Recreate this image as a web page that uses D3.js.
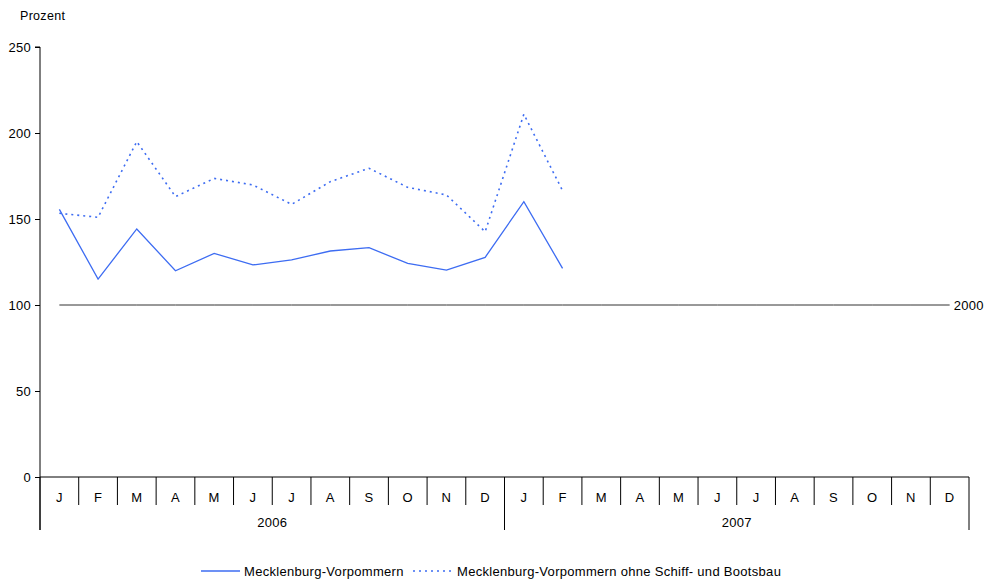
<!DOCTYPE html>
<html><head><meta charset="utf-8">
<script src="https://cdn.jsdelivr.net/npm/d3@7"></script>
<style>body{margin:0;background:#fff;} svg{display:block;font-family:"Liberation Sans",Arial,sans-serif;} text{letter-spacing:0.3px;}</style>
</head><body>
<script>
const months = ["J","F","M","A","M","J","J","A","S","O","N","D"];
const years = ["2006","2007"];
const seriesMV = [155.6,115.1,144.2,119.9,130.0,123.3,126.2,131.4,133.3,124.2,120.3,127.7,160.1,121.3];
const seriesOhne = [153.3,151.0,195.0,163.0,173.6,169.8,158.5,171.7,179.5,168.4,164.0,142.6,210.9,166.5];
const baseValue = 100;
const yTicks = [0,50,100,150,200,250];
const legendLabels = ["Mecklenburg-Vorpommern","Mecklenburg-Vorpommern ohne Schiff- und Bootsbau"];

const W=986,H=582;
const svg=d3.select("body").append("svg").attr("width",W).attr("height",H);
const nM = months.length*years.length;
const x0=40,x1=969;
const xb=d3.scaleBand().domain(d3.range(nM)).range([x0,x1]).padding(0);
const xc=i=>xb(i)+xb.bandwidth()/2;
const y=d3.scaleLinear().domain([0,250]).range([477,47]);
const blue="#3d6cf2";
const FS=13;

// y axis
const ya=svg.append("g").attr("transform",`translate(${x0},0)`).call(d3.axisLeft(y).tickValues(yTicks).tickSize(5).tickPadding(4));
ya.select(".domain").attr("d",`M-5,${y(250)}H0V${y(0)+53}`).attr("stroke","#000");
ya.selectAll("text").attr("font-size",FS).attr("fill","#000").attr("dy","0.36em").style("font-family","Liberation Sans, Arial, sans-serif");
ya.selectAll(".tick line").attr("stroke","#000");

svg.append("text").attr("x",20).attr("y",20).attr("font-size",12.5).text("Prozent");

// x axis line
svg.append("line").attr("x1",x0).attr("x2",x1).attr("y1",y(0)).attr("y2",y(0)).attr("stroke","#000");
// month boundaries
const bounds=d3.range(nM+1);
svg.selectAll(".mb").data(bounds).join("line")
  .attr("x1",i=>i===nM?x1:xb(i)).attr("x2",i=>i===nM?x1:xb(i))
  .attr("y1",y(0)).attr("y2",i=>i%12===0?y(0)+53:y(0)+28).attr("stroke","#000");
svg.selectAll(".ml").data(d3.range(nM)).join("text")
  .attr("x",i=>xc(i)).attr("y",y(0)+24.5).attr("text-anchor","middle").attr("font-size",FS)
  .text(i=>months[i%12]);
svg.selectAll(".yl").data(years).join("text")
  .attr("x",(d,i)=>(xb(i*12)+ (i*12+12===nM?x1:xb(i*12+12)))/2).attr("y",y(0)+50)
  .attr("text-anchor","middle").attr("font-size",FS).text(d=>d);

// base line
const line=d3.line().x((d,i)=>xc(i)).y(d=>y(d));
const baseData=d3.range(nM).map(()=>baseValue);
svg.append("path").attr("d",line(baseData)).attr("fill","none").attr("stroke","#333").attr("stroke-width",1);
svg.append("text").attr("x",xc(nM-1)+4).attr("y",y(baseValue)+4.5).attr("font-size",FS).text("2000");

svg.append("path").attr("d",line(seriesOhne)).attr("fill","none").attr("stroke",blue).attr("stroke-width",1.6).attr("stroke-dasharray","2,4");
svg.append("path").attr("d",line(seriesMV)).attr("fill","none").attr("stroke",blue).attr("stroke-width",1.3);

// legend
const lg=svg.append("g");
lg.append("line").attr("x1",201).attr("x2",240).attr("y1",571).attr("y2",571).attr("stroke",blue).attr("stroke-width",1.3);
lg.append("text").attr("x",244).attr("y",576).attr("font-size",FS).text(legendLabels[0]);
lg.append("line").attr("x1",413).attr("x2",453).attr("y1",571).attr("y2",571).attr("stroke",blue).attr("stroke-width",1.6).attr("stroke-dasharray","2,4");
lg.append("text").attr("x",457).attr("y",576).attr("font-size",FS).text(legendLabels[1]);
</script>
</body></html>
